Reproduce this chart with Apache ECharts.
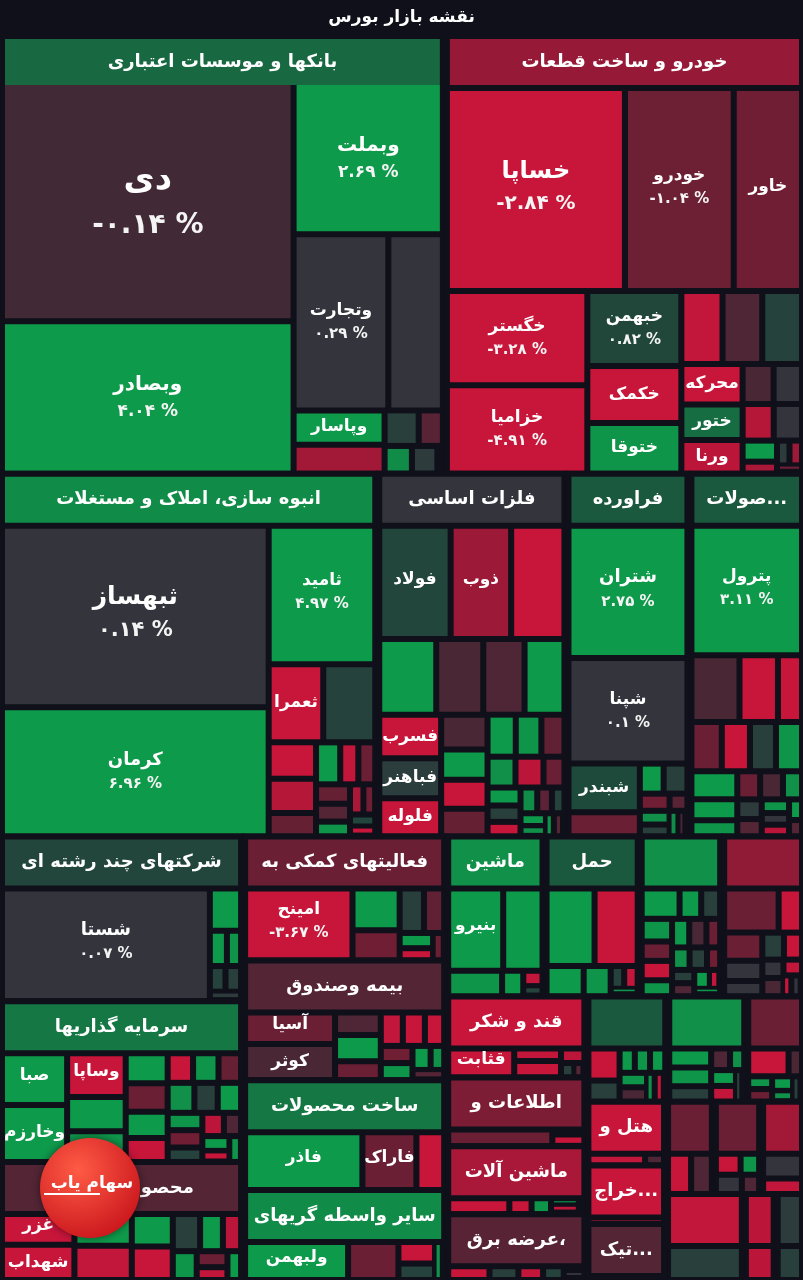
<!DOCTYPE html>
<html><head><meta charset="utf-8">
<script src="https://cdn.jsdelivr.net/npm/echarts@6/dist/echarts.min.js"></script>
<style>html,body{margin:0;padding:0;background:#0f101a;}#c{width:803px;height:1280px;}</style>
</head><body><div id="c"></div>
<script>
// ---------- DATA ----------
const sectorNames = ['بانکها و موسسات اعتباری','خودرو و ساخت قطعات','انبوه سازی، املاک و مستغلات','فلزات اساسی','فراورده های نفتی، کک و سوخت هسته ای','محصولات شیمیایی','شرکتهای چند رشته ای صنعتی','سرمایه گذاریها','محصولات غذایی و آشامیدنی','فعالیتهای کمکی به نهادهای مالی واسط','بیمه وصندوق بازنشستگی','ساخت محصولات فلزی','سایر واسطه گریهای مالی','ماشین آلات و دستگاههای برقی','حمل و نقل، انبارداری و ارتباطات','مواد و محصولات دارویی','سیمان، آهک و گچ','قند و شکر','اطلاعات و ارتباطات','ماشین آلات و تجهیزات','عرضه برق، گاز، بخار و آب گرم','کاشی و سرامیک','زراعت و خدمات وابسته','محصولات کاغذی','هتل و رستوران','استخراج کانه های فلزی','لاستیک و پلاستیک','منسوجات','رایانه و فعالیتهای وابسته','استخراج نفت گاز','محصولات چوبی','مخابرات','دباغی','انتشار، چاپ و تکثیر'];
const sectorLabels = ['بانکها و موسسات اعتباری','خودرو و ساخت قطعات','انبوه سازی، املاک و مستغلات','فلزات اساسی','فراورده','صولات...','شرکتهای چند رشته ای','سرمایه گذاریها','محصولات غذایی','فعالیتهای کمکی به','بیمه وصندوق','ساخت محصولات','سایر واسطه گریهای','ماشین','حمل','','','قند و شکر','اطلاعات و','ماشین آلات','عرضه برق،','','','','هتل و','خراج...','تیک...','','','','','','',''];
const sectorSizes = [192,155,135,67.7,44,41,39.5,38.5,28.3,24.8,24,22,18,15.5,15,13,12.9,11.2,9.5,9.4,9.1,8.4,8.2,6.0,5.0,4.6,4.4,4.35,4.3,3.9,3.6,3.0,2.7,2.4];
const sectorChanges = [1.5,-1.7,2.2,0.1,1.2,1.2,0.8,1.8,-0.5,-1.0,-0.5,1.8,2.2,2.3,1.2,2.3,-1.6,-2.5,-1.3,-2.0,-0.6,1.2,2.3,-1.0,-2.5,-2.5,-0.5,-1.0,-1.0,-1.9,-2.4,0.6,-2.3,0.5];

const bankNames = ['دی','وبصادر','وبملت','وتجارت','','وپاسار'];
const bankSizes = [69,44,22.5,16.5,9.5,3.1,2.6,1.2,0.85,0.75,0.7,0.15];
const bankChanges = [-0.14,4.04,2.69,0.29,0.12,2.6,-1.9,0.6,-0.6,2.2,0.5,0.1];

const autoNames = ['خساپا','خودرو','خاور','خگستر','خزامیا','خبهمن','خکمک','ختوقا','','','','محرکه','ختور','ورنا'];
const autoSizes = [36,22,13.8,12.8,12,6.8,5.2,4.6,2.9,2.8,2.8,2.4,2.1,2.0,1.2,1.1,1.1,1.0,0.7,0.4,0.3,0.3,0.2];
const autoChanges = [-2.84,-1.04,-1.1,-3.28,-4.91,0.82,-2.6,2.4,-2.4,0.7,-0.4,-2.5,1.6,-2.3,-0.3,-2.2,0.2,0.15,2.5,-2.0,-1.8,0.5,-1.0];

const buildNames = ['ثبهساز','کرمان','ثامید','ثعمرا'];
const buildSizes = [49.3,34,15.2,4.2,4.0,1.7,1.6,1.1,1.0,0.75,0.7,0.65,0.6,0.5,0.4,0.35,0.3,0.25];
const buildChanges = [0.14,6.96,4.97,-2.5,0.7,-2.6,-2.2,-0.9,2.5,-2.4,-1.0,-0.9,-0.5,2.4,-2.0,-1.1,0.8,-2.5];

const metalNames = ['فولاد','ذوب','','','','','','فسرب','فباهنر','فلوله'];
const metalSizes = [7.9,6.7,5.9,4.0,3.3,2.9,2.8,2.5,2.3,2.2,1.5,1.3,1.25,1.2,1.1,1.0,0.9,0.8,0.8,0.6,0.55,0.5,0.45,0.4,0.35,0.3,0.3,0.25,0.2,0.2];
const metalChanges = [0.8,-1.8,-2.8,2.7,-0.3,-0.4,2.6,-2.7,0.55,-2.8,-0.3,2.6,-2.6,-0.9,2.5,2.4,-0.8,-2.3,2.3,-1.0,2.5,0.6,-2.5,2.2,-0.7,2.5,0.7,2.3,-0.5,2.4];

const refinNames = ['شتران','شپنا','شبندر'];
const refinSizes = [16.1,12.3,3.4,1.7,0.7,0.7,0.5,0.4,0.35,0.3,0.25,0.2];
const refinChanges = [2.75,0.1,0.9,-1.0,0.6,2.5,-1.1,2.3,0.6,-0.6,2.2,-0.3];

const chemNames = ['پترول'];
const chemSizes = [14,3.0,2.4,1.5,1.4,1.3,1.2,1.2,1.2,0.9,0.7,0.6,0.6,0.5,0.45,0.4,0.35,0.3,0.3,0.25,0.2];
const chemChanges = [3.11,-0.3,-2.6,-2.5,-1.0,-2.6,2.5,2.4,0.6,2.5,2.4,-0.3,-1.0,2.3,0.5,-0.5,2.4,-2.3,0.2,2.5,-0.5];

const multiNames = ['شستا'];
const multiSizes = [24.6,1.5,0.6,0.5,0.4,0.4,0.3];
const multiChanges = [0.07,2.6,2.5,2.4,0.6,0.7,0.5];

const investNames = ['صبا','وخارزم','وساپا'];
const investSizes = [3.75,3.7,2.9,2.0,1.8,1.5,1.2,1.1,1.0,0.9,0.9,0.8,0.8,0.7,0.7,0.6,0.6,0.5,0.5,0.4,0.4,0.3,0.3];
const investChanges = [2.6,2.5,-2.6,2.5,2.4,2.6,-1.0,2.5,-2.5,2.4,-2.5,2.3,-0.9,2.5,0.6,-1.1,2.4,-2.3,0.7,2.5,-0.4,2.4,-2.5];

const foodNames = ['غزر','شهداب'];
const foodSizes = [2.7,2.6,2.2,2.0,1.6,1.4,1.2,1.0,0.8,0.7,0.5,0.4,0.4];
const foodChanges = [-2.5,-2.6,2.5,-2.4,2.6,-2.5,0.6,2.5,-2.3,2.4,-1.0,2.5,-2.4];

const auxNames = ['امینح'];
const auxSizes = [8.2,2.2,1.4,1.2,1.0,0.5,0.4,0.3];
const auxChanges = [-3.67,2.6,-1.1,0.6,-0.8,2.5,-2.5,-1.0];

const insurNames = ['آسیا','کوثر'];
const insurSizes = [3.1,3.0,1.2,1.1,0.8,0.8,0.8,0.7,0.5,0.5,0.4,0.3,0.3];
const insurChanges = [-1.0,-0.3,-0.4,2.5,-2.5,-2.4,-1.0,-2.6,2.4,-1.1,2.5,-0.5,2.3];

const fabrNames = ['فاذر','فاراک'];
const fabrSizes = [7.6,3.5,1.8];
const fabrChanges = [4.99,-1.0,-2.5];

const finNames = ['ولبهمن'];
const finSizes = [4.5,2.2,1.0,0.6,0.4];
const finChanges = [2.6,-1.0,-2.5,0.7,2.4];

const elecNames = ['بنیرو'];
const elecSizes = [4.9,3.5,1.4,0.55,0.3,0.2];
const elecChanges = [2.6,2.5,2.4,2.6,-2.4,0.7];

const transSizes = [3.9,3.5,1.1,0.8,0.3,0.3,0.2];
const transChanges = [2.5,-2.6,2.5,2.4,-2.4,0.7,2.4];
const pharmaSizes = [1.4,0.8,0.7,0.7,0.6,0.6,0.5,0.5,0.5,0.4,0.4,0.4,0.3,0.3,0.3,0.3,0.2,0.2];
const pharmaChanges = [2.6,2.5,2.4,0.6,-2.5,-1.0,-0.3,2.5,2.4,0.6,2.3,-1.0,2.5,-0.4,0.6,-1.1,2.4,-2.4];
const cementSizes = [2.8,1.2,1.1,0.8,0.6,0.6,0.5,0.4,0.4,0.3,0.2,0.2];
const cementChanges = [-1.0,-2.6,-1.0,0.2,0.6,0.1,-2.5,-0.3,0.2,-2.4,0.1,-2.5];
const sugarNames = ['قثابت'];
const sugarSizes = [2.4,0.9,0.8,0.5,0.2,0.15];
const sugarChanges = [-2.5,-2.4,-2.6,-2.3,0.6,-0.5];
const infoSizes = [2.6,0.4,0.4];
const infoChanges = [-1.0,-2.5,-2.4];
const machSizes = [1.1,0.4,0.35,0.3,0.2,0.1];
const machChanges = [-2.5,-2.5,2.4,2.5,-2.4,0.6];
const powerSizes = [1.0,0.7,0.6,0.5,0.3,0.2];
const powerChanges = [-2.5,0.6,-2.4,0.7,-2.5,0.3];
const tileSizes = [0.9,0.5,0.35,0.35,0.35,0.3,0.3,0.2,0.2];
const tileChanges = [-2.5,0.6,2.5,2.4,2.5,-0.3,2.4,-2.4,2.3];
const agriSizes = [0.8,0.6,0.5,0.4,0.3,0.3,0.3,0.2];
const agriChanges = [2.5,2.4,0.6,-0.4,-2.4,2.5,2.3,0.6];
const paperSizes = [0.9,0.3,0.2,0.2,0.2,0.15,0.15];
const paperChanges = [-2.5,-0.3,2.5,-1.0,2.4,0.6,2.3];
const hotelSizes = [1.2,0.4];
const hotelChanges = [-2.4,-0.4];
const mineSizes = [1.0];
const mineChanges = [-2.4];
const rubberSizes = [0.8,0.15,0.1];
const rubberChanges = [-2.3,2.5,0.6];
const textileSizes = [0.5,0.45];
const textileChanges = [-2.5,-0.4];
const compSizes = [0.4,0.3,0.3,0.2];
const compChanges = [-2.5,0.2,2.4,-0.4];
const oilSizes = [0.4,0.2];
const oilChanges = [0.3,-2.4];
const woodSizes = [0.6];
const woodChanges = [2.4];
const telecomSizes = [0.5];
const telecomChanges = [2.4];
const leatherSizes = [0.3];
const leatherChanges = [-2.3];
const printSizes = [0.3];
const printChanges = [0.6];

const sectorStocks = [
  [bankNames, bankSizes, bankChanges], [autoNames, autoSizes, autoChanges], [buildNames, buildSizes, buildChanges],
  [metalNames, metalSizes, metalChanges], [refinNames, refinSizes, refinChanges], [chemNames, chemSizes, chemChanges],
  [multiNames, multiSizes, multiChanges], [investNames, investSizes, investChanges], [foodNames, foodSizes, foodChanges],
  [auxNames, auxSizes, auxChanges], [insurNames, insurSizes, insurChanges], [fabrNames, fabrSizes, fabrChanges],
  [finNames, finSizes, finChanges], [elecNames, elecSizes, elecChanges], [[], transSizes, transChanges],
  [[], pharmaSizes, pharmaChanges], [[], cementSizes, cementChanges], [sugarNames, sugarSizes, sugarChanges],
  [[], infoSizes, infoChanges], [[], machSizes, machChanges], [[], powerSizes, powerChanges],
  [[], tileSizes, tileChanges], [[], agriSizes, agriChanges], [[], paperSizes, paperChanges],
  [[], hotelSizes, hotelChanges], [[], mineSizes, mineChanges], [[], rubberSizes, rubberChanges],
  [[], textileSizes, textileChanges], [[], compSizes, compChanges], [[], oilSizes, oilChanges],
  [[], woodSizes, woodChanges], [[], telecomSizes, telecomChanges], [[], leatherSizes, leatherChanges],
  [[], printSizes, printChanges]
];

// ---------- STYLE ----------
const BG = '#0f101a';
const FONT = '"DejaVu Sans", "Noto Sans", sans-serif';
const STOPS = [[-2.5,[200,21,58]],[-1.0,[106,31,52]],[-0.01,[60,42,54]],[0,[52,52,61]],[0.3,[52,52,61]],[0.9,[30,74,59]],[2.5,[14,154,75]]];
function rgb(c){return 'rgb('+c[0]+','+c[1]+','+c[2]+')';}
function colorOf(v){
  if (v <= STOPS[0][0]) return rgb(STOPS[0][1]);
  const L = STOPS[STOPS.length-1];
  if (v >= L[0]) return rgb(L[1]);
  for (let i = 1; i < STOPS.length; i++) {
    if (v <= STOPS[i][0]) {
      const a = STOPS[i-1], b = STOPS[i], t = (v - a[0]) / (b[0] - a[0]);
      return rgb(a[1].map((c,k)=>Math.round(c + (b[1][k]-c)*t)));
    }
  }
  return rgb(L[1]);
}
const FA = '۰۱۲۳۴۵۶۷۸۹';
function pct(v){ return String(v).replace(/\d/g, d => FA[d]) + ' %'; }

const dispMap = {}, chgMap = {};
sectorNames.forEach((n,i)=>{ dispMap[n] = sectorLabels[i]; });

function buildData(){
  return sectorNames.map((sn, i) => {
    const [nm, sz, ch] = sectorStocks[i];
    const sc = colorOf(sectorChanges[i]);
    return {
      name: sn,
      value: sectorSizes[i],
      itemStyle: { color: sc },
      upperLabel: { backgroundColor: sc },
      children: sz.map((v, j) => {
        const n = nm[j] || '';
        if (n) chgMap[n] = ch[j];
        return { name: n, value: v, itemStyle: { color: colorOf(ch[j]) } };
      })
    };
  });
}

const rects = {};
const RICH = {};
for (let s = 12; s <= 40; s++) {
  RICH['n'+s] = { fontSize: s, fontWeight: 'bold', color: '#ffffff', fontFamily: FONT, lineHeight: Math.round(s*1.45), align: 'center' };
  RICH['p'+s] = { fontSize: s, fontWeight: 'bold', color: '#f4f4f4', fontFamily: FONT, lineHeight: Math.round(s*1.45), align: 'center' };
}
for (let k = 1; k <= 400; k++) RICH['s'+k] = { fontSize: 1, lineHeight: k, height: k };

function leafLabel(p){
  const n = p.name;
  if (!n || !(n in chgMap)) return '';
  const r = rects[n];
  if (!r) return '';
  if (r.w < 30 || r.h < 20) return '';
  const m = Math.min(r.w, r.h);
  let fs = m <= 100 ? 17 : (m <= 150 ? 17 + (m-100)*0.06 : 20 + (m-150)*0.17);
  fs = Math.round(Math.min(34, fs));
  let body, th;
  if (r.w >= 80 && r.h >= 58) {
    const ps = Math.max(15, Math.round(fs*0.83));
    body = '{n'+fs+'|'+n+'}\n{p'+ps+'|'+pct(chgMap[n])+'}';
    th = Math.round(fs*1.45) + Math.round(ps*1.45);
  } else {
    body = '{n'+fs+'|'+n+'}';
    th = Math.round(fs*1.45);
  }
  const sp = Math.floor((r.h - th) / 2);
  return sp >= 1 ? '{s'+Math.min(sp,400)+'| }\n' + body : body;
}

function buildOption(){
  return {
    backgroundColor: BG,
    animation: false,
    title: { text: 'نقشه بازار بورس', left: 'center', top: 4,
      textStyle: { color: '#ffffff', fontSize: 17, fontWeight: 'bold', fontFamily: FONT } },
    graphic: [
      { type: 'circle', z: 100, shape: { cx: 90, cy: 1188, r: 50 },
        style: { fill: new echarts.graphic.RadialGradient(0.38, 0.32, 0.75, [{offset:0,color:'#ff5b45'},{offset:1,color:'#c9151c'}]), shadowBlur: 8, shadowColor: 'rgba(0,0,0,0.5)' } },
      { type: 'line', z: 101, shape: { x1: 44, y1: 1194, x2: 100, y2: 1194 }, style: { stroke: '#ffffff', lineWidth: 2 } },
      { type: 'text', z: 102, x: 92, y: 1184, style: { text: 'سهام یاب', fill: '#ffffff', font: 'bold 17px "DejaVu Sans"', textAlign: 'center', textVerticalAlign: 'middle' } }
    ],
    series: [{
      type: 'treemap',
      left: 1, top: 39, width: 802, height: 1242,
      roam: false, nodeClick: false, drillDownIcon: '',
      breadcrumb: { show: false },
      visibleMin: 1,
      itemStyle: { borderColor: BG, borderWidth: 0, gapWidth: 0 },
      label: { show: true, position: 'inside', padding: 0, overflow: 'none', formatter: leafLabel, rich: RICH, color: '#fff', fontFamily: FONT },
      levels: [
        { itemStyle: { borderColor: BG, borderWidth: 0, gapWidth: 2 }, upperLabel: { show: false } },
        { itemStyle: { borderColor: BG, borderWidth: 4, gapWidth: 6 },
          upperLabel: { show: true, height: 46, position: 'inside', align: 'center', verticalAlign: 'middle',
            color: '#ffffff', fontSize: 18, fontWeight: 'bold', fontFamily: FONT, padding: 0, overflow: 'none',
            borderColor: BG, borderWidth: 6,
            formatter: p => (dispMap[p.name] || ' ') } },
        { itemStyle: { borderColor: BG, borderWidth: 0, gapWidth: 0 }, upperLabel: { show: false },
          label: { show: true, position: 'inside', padding: 0, overflow: 'none', formatter: leafLabel, rich: RICH } }
      ],
      data: buildData()
    }]
  };
}

const chart = echarts.init(document.getElementById('c'), null, { renderer: 'canvas' });
chart.setOption(buildOption());
try {
  const data = chart.getModel().getSeriesByIndex(0).getData();
  for (let i = 0; i < data.count(); i++) {
    const nm = data.getName(i), ly = data.getItemLayout(i);
    if (nm && ly && ly.width != null) rects[nm] = { w: ly.width, h: ly.height };
  }
} catch (e) { console.log(e); }
chart.setOption(buildOption(), true);
</script></body></html>
